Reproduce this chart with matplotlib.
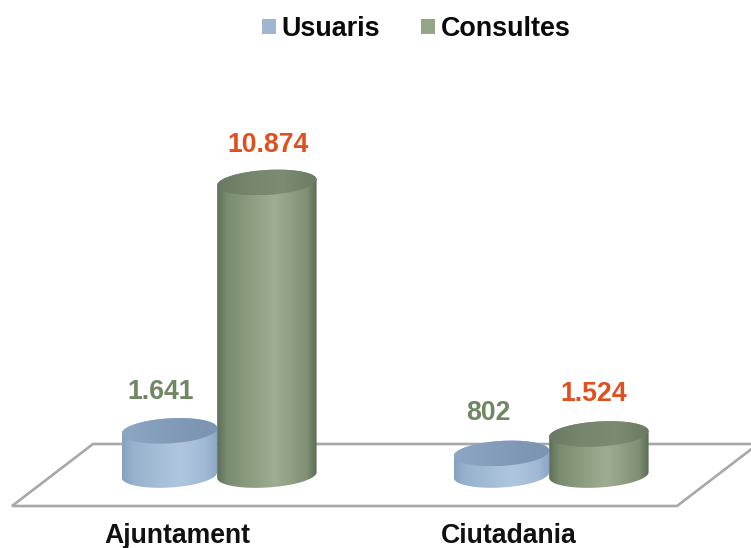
import numpy as np
import matplotlib
matplotlib.use("Agg")
import matplotlib.pyplot as plt
from matplotlib.colors import LinearSegmentedColormap
from matplotlib.patches import Patch, PathPatch, Polygon
from matplotlib.path import Path

plt.rcParams['font.family'] = ['Liberation Sans', 'DejaVu Sans']
plt.rcParams['font.weight'] = 'bold'

categories = ["Ajuntament", "Ciutadania"]
usuaris = [1641, 802]
consultes = [10874, 1524]
usuaris_labels = ["1.641", "802"]
consultes_labels = ["10.874", "1.524"]

W, H = 751, 548
PX_PER_UNIT = 0.0269   # vertical scale
PX_PER_CAT = 332.0
BASE_Y = 475           # pixel row of value 0
AX_BOTTOM = 512
X0 = 177               # pixel column of first category

fig = plt.figure(figsize=(W / 100, H / 100), dpi=100, facecolor='white')

# background layer in pixels, only for the floor
bg = fig.add_axes([0, 0, 1, 1], zorder=0)
bg.set_xlim(0, W)
bg.set_ylim(H, 0)
bg.axis('off')
bg.add_patch(Polygon([(93, 444), (758, 444), (677, 506), (12, 506)], closed=True,
                     facecolor='white', edgecolor='#a8a8a8', linewidth=1.9))

ax = fig.add_axes([0, (H - AX_BOTTOM) / H, 1, AX_BOTTOM / H], zorder=1)
ax.patch.set_alpha(0)
for s in ax.spines.values():
    s.set_visible(False)
ax.set_yticks([])
ax.set_xticks(range(len(categories)))
ax.set_xticklabels(categories, fontsize=19.2, fontweight='bold', color='#111111')
ax.tick_params(axis='x', length=0, pad=8)

blue_side = LinearSegmentedColormap.from_list('bs', [(0, '#86a0c0'), (0.12, '#98b2ce'), (0.6, '#afc6de'),
                                                     (0.88, '#a0b9d4'), (1, '#8aa4c3')])
blue_top = LinearSegmentedColormap.from_list('bt', ['#8ea7c5', '#869fbd', '#7f98b6', '#7b94b2'])
green_side = LinearSegmentedColormap.from_list('gs', [(0, '#5d6f56'), (0.1, '#7a8c6f'), (0.58, '#9fae92'),
                                                      (0.9, '#7f9075'), (1, '#5a6c53')])
green_top = LinearSegmentedColormap.from_list('gt', ['#687a61', '#76876d', '#7c8b72', '#6a7b62'])


def ellipse(cx, value, width, t):
    # tilted ellipse, returned in data units
    a = width * PX_PER_CAT / 2
    b = 12.5
    tilt = np.radians(3.5)
    px = a * np.cos(t) * np.cos(tilt) - b * np.sin(t) * np.sin(tilt)
    py = a * np.cos(t) * np.sin(tilt) + b * np.sin(t) * np.cos(tilt)
    return cx + px / PX_PER_CAT, value + py / PX_PER_UNIT


def shaded(verts, cmap, zorder):
    verts = np.array(verts)
    path = Path(np.vstack([verts, verts[0]]), closed=True)
    patch = PathPatch(path, facecolor='none', edgecolor='none', transform=ax.transData)
    ax.add_patch(patch)
    im = ax.imshow(np.linspace(0, 1, 256)[None, :], cmap=cmap, aspect='auto', zorder=zorder,
                   extent=[verts[:, 0].min(), verts[:, 0].max(), verts[:, 1].min(), verts[:, 1].max()],
                   interpolation='bilinear')
    im.set_clip_path(patch)


def cylinder(cx, value, width, side, top, zorder):
    low = np.linspace(np.pi, 2 * np.pi, 80)
    high = np.linspace(0, np.pi, 80)
    bx, by = ellipse(cx, 0, width, low)
    tx, ty = ellipse(cx, value, width, high)
    shaded(np.column_stack([np.r_[bx, tx], np.r_[by, ty]]), side, zorder)
    ex, ey = ellipse(cx, value, width, np.linspace(0, 2 * np.pi, 160))
    shaded(np.column_stack([ex, ey]), top, zorder + 0.1)


u_off, c_off = -0.0226, 0.2707
u_width, c_width = 0.288, 0.30
u_nudge = [(-9, 39), (-13, 40)]
c_nudge = [(1, 37), (-5, 40)]
for i in range(len(categories)):
    cylinder(i + u_off, usuaris[i], u_width, blue_side, blue_top, 2)
    cylinder(i + c_off, consultes[i], c_width, green_side, green_top, 3)
    ax.annotate(usuaris_labels[i], (i + u_off, usuaris[i]),
                xytext=(u_nudge[i][0] * 0.72, u_nudge[i][1] * 0.72),
                textcoords='offset points', ha='center', va='center', fontsize=19.2,
                fontweight='bold', color='#6f8763', zorder=5)
    ax.annotate(consultes_labels[i], (i + c_off, consultes[i]),
                xytext=(c_nudge[i][0] * 0.72, c_nudge[i][1] * 0.72),
                textcoords='offset points', ha='center', va='center', fontsize=19.2,
                fontweight='bold', color='#e0501f', zorder=5)

ax.set_xlim(-X0 / PX_PER_CAT, (W - X0) / PX_PER_CAT)
ax.set_ylim(-(AX_BOTTOM - BASE_Y) / PX_PER_UNIT, BASE_Y / PX_PER_UNIT)

handles = [Patch(facecolor='#a0b6d0', label='Usuaris'), Patch(facecolor='#95a588', label='Consultes')]
fig.legend(handles=handles, loc='center', bbox_to_anchor=(416 / W, 1 - 29 / H), ncol=2, frameon=False,
           prop={'size': 19.4, 'weight': 'bold'}, handlelength=0.52, handleheight=0.52,
           handletextpad=0.22, columnspacing=1.5, labelcolor='#0a0a0a')

fig.savefig('out.png', dpi=100)
